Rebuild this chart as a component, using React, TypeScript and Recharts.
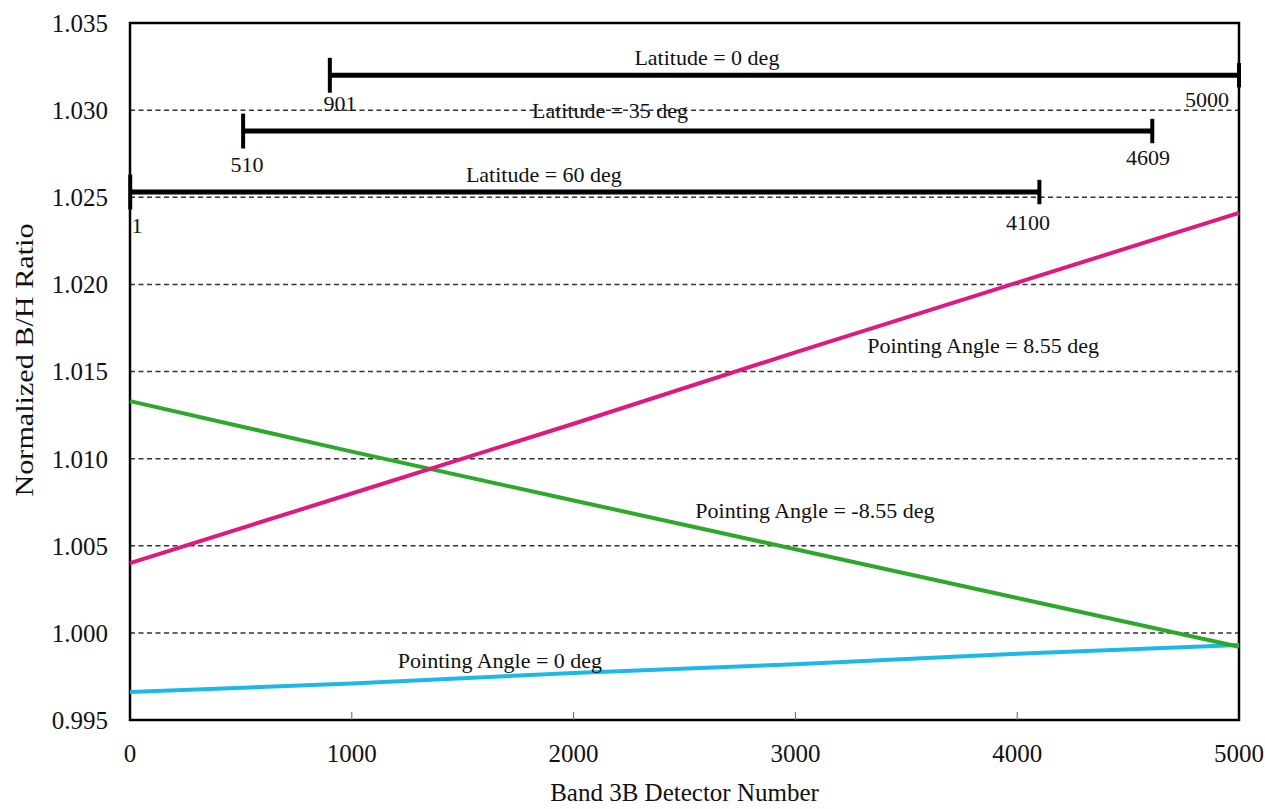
import React from 'react';
import {
  LineChart,
  Line,
  XAxis,
  YAxis,
  CartesianGrid,
  ReferenceLine,
  ReferenceArea,
  ReferenceDot,
  Label,
} from 'recharts';

// ---- data ----
const detectors = [0, 1000, 2000, 3000, 4000, 5000];
const angle855 = [1.004, 1.008, 1.012, 1.0161, 1.0201, 1.0241];
const angleNeg855 = [1.0133, 1.0104, 1.0076, 1.0048, 1.002, 0.9992];
const angle0 = [0.9966, 0.9971, 0.9977, 0.9982, 0.9988, 0.9993];

const xTicks = [0, 1000, 2000, 3000, 4000, 5000];
const yTicks = [0.995, 1.0, 1.005, 1.01, 1.015, 1.02, 1.025, 1.03, 1.035];

// latitude coverage ranges (detector start, end, ratio level)
const latStarts = [901, 510, 1];
const latEnds = [5000, 4609, 4100];
const latLevels = [1.032, 1.0288, 1.0253];

// annotation texts with positions in data coordinates
const latLabels = ['Latitude = 0 deg', 'Latitude = 35 deg', 'Latitude = 60 deg'];
const latLabelX = [2601, 2164, 1866];
const latLabelY = [1.03305, 1.03001, 1.02633];

const endLabels = ['901', '5000', '510', '4609', '1', '4100'];
const endLabelX = [947, 4856, 527, 4590, 32, 4049];
const endLabelY = [1.03041, 1.03064, 1.02691, 1.02731, 1.02341, 1.02358];

const angleLabels = [
  'Pointing Angle = 8.55 deg',
  'Pointing Angle = -8.55 deg',
  'Pointing Angle = 0 deg',
];
const angleLabelX = [3846, 3088, 1668];
const angleLabelY = [1.01652, 1.00705, 0.99844];

const chartData = detectors.map((d, i) => ({
  x: d,
  pos: angle855[i],
  neg: angleNeg855[i],
  zero: angle0[i],
}));

const FONT = '"Liberation Serif", "Times New Roman", serif';
const W = 1265;
const H = 809;
const LEFT = 130;
const RIGHT_M = 26;
const TOP = 23;
const XAXIS_H = 89;

export default function App() {
  const plotW = W - LEFT - RIGHT_M;
  const plotCx = LEFT + plotW / 2;

  return (
    <div style={{ position: 'absolute', left: 0, top: 0, width: W, height: H, background: '#fff' }}>
      <LineChart
        width={W}
        height={H}
        data={chartData}
        margin={{ top: TOP, right: RIGHT_M, bottom: 0, left: 0 }}
      >
        <CartesianGrid
          horizontal={true}
          vertical={false}
          stroke="#333"
          strokeWidth={1.5}
          strokeDasharray="5 3.5"
        />
        <XAxis
          dataKey="x"
          type="number"
          domain={[0, 5000]}
          ticks={xTicks}
          height={XAXIS_H}
          axisLine={false}
          tickLine={false}
          tickSize={0}
          tickMargin={24}
          tick={{ fill: '#111', fontSize: 25, fontFamily: FONT }}
        >
          <Label
            content={() => (
              <text
                x={plotCx}
                y={801}
                textAnchor="middle"
                fill="#111"
                fontSize={25}
                fontFamily={FONT}
              >
                Band 3B Detector Number
              </text>
            )}
          />
        </XAxis>
        <YAxis
          type="number"
          domain={[0.995, 1.035]}
          ticks={yTicks}
          width={LEFT}
          axisLine={false}
          tickLine={false}
          tickSize={0}
          tickMargin={22}
          tickFormatter={(v: number) => v.toFixed(3)}
          tick={{ fill: '#111', fontSize: 25, fontFamily: FONT }}
        >
          <Label
            content={() => (
              <text
                x={24}
                y={360}
                transform={`rotate(-90 24 360)`}
                textAnchor="middle"
                dominantBaseline="central"
                fill="#111"
                fontSize={26}
                fontFamily={FONT}
                textLength={273}
                lengthAdjust="spacingAndGlyphs"
              >
                Normalized B/H Ratio
              </text>
            )}
          />
        </YAxis>

        {/* frame */}
        <ReferenceArea
          x1={0}
          x2={5000}
          y1={0.995}
          y2={1.035}
          fill="none"
          fillOpacity={0}
          stroke="#000"
          strokeWidth={2.5}
        />

        {/* small inward x ticks */}
        {xTicks.slice(1, -1).map((t) => (
          <ReferenceLine
            key={'xt' + t}
            segment={[
              { x: t, y: 0.995 },
              { x: t, y: 0.99546 },
            ]}
            stroke="#666"
            strokeWidth={1}
          />
        ))}

        {/* latitude range bars */}
        {latStarts.map((s, i) => (
          <ReferenceLine
            key={'lat' + i}
            segment={[
              { x: s, y: latLevels[i] },
              { x: latEnds[i], y: latLevels[i] },
            ]}
            stroke="#000"
            strokeWidth={5}
          />
        ))}
        {latStarts.map((s, i) => (
          <ReferenceLine
            key={'lats' + i}
            segment={[
              { x: s, y: latLevels[i] + 0.001 },
              { x: s, y: latLevels[i] - 0.001 },
            ]}
            stroke="#000"
            strokeWidth={4}
          />
        ))}
        {latEnds.map((e, i) => (
          <ReferenceLine
            key={'late' + i}
            segment={[
              { x: e, y: latLevels[i] + 0.0007 },
              { x: e, y: latLevels[i] - 0.0007 },
            ]}
            stroke="#000"
            strokeWidth={4}
          />
        ))}

        {latLabels.map((t, i) => (
          <ReferenceDot
            key={'ll' + i}
            x={latLabelX[i]}
            y={latLabelY[i]}
            r={0}
            fill="none"
            stroke="none"
            label={{ value: t, position: 'center', fill: '#111', fontSize: 22, fontFamily: FONT }}
          />
        ))}
        {endLabels.map((t, i) => (
          <ReferenceDot
            key={'el' + i}
            x={endLabelX[i]}
            y={endLabelY[i]}
            r={0}
            fill="none"
            stroke="none"
            label={{ value: t, position: 'center', fill: '#111', fontSize: 22, fontFamily: FONT }}
          />
        ))}
        {angleLabels.map((t, i) => (
          <ReferenceDot
            key={'al' + i}
            x={angleLabelX[i]}
            y={angleLabelY[i]}
            r={0}
            fill="none"
            stroke="none"
            label={{ value: t, position: 'center', fill: '#111', fontSize: 22, fontFamily: FONT }}
          />
        ))}

        <Line
          dataKey="zero"
          type="linear"
          stroke="#1cb8e8"
          strokeWidth={4}
          dot={false}
          isAnimationActive={false}
        />
        <Line
          dataKey="neg"
          type="linear"
          stroke="#2ea82a"
          strokeWidth={4}
          dot={false}
          isAnimationActive={false}
        />
        <Line
          dataKey="pos"
          type="linear"
          stroke="#e0197f"
          strokeWidth={4}
          dot={false}
          isAnimationActive={false}
        />
      </LineChart>
    </div>
  );
}
